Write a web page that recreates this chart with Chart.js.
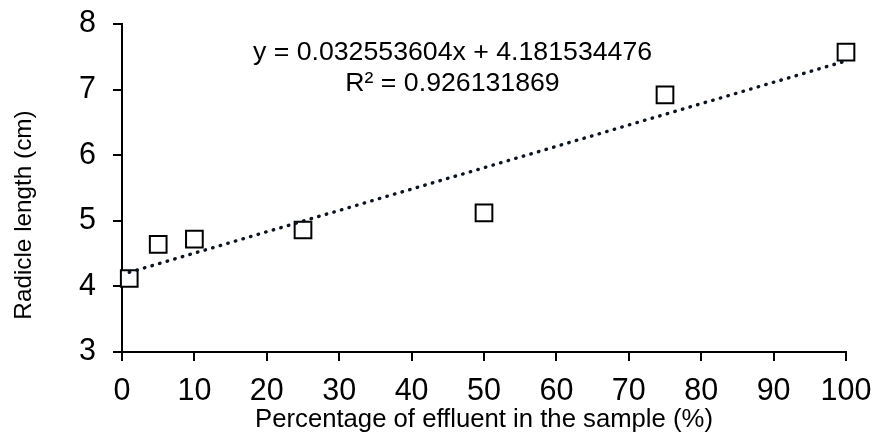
<!DOCTYPE html>
<html>
<head>
<meta charset="utf-8">
<script src="https://cdn.jsdelivr.net/npm/chart.js@4.4.1/dist/chart.umd.min.js"></script>
<style>
  html, body { margin: 0; padding: 0; background: #ffffff; }
  #wrap { width: 874px; height: 440px; }
</style>
</head>
<body>
<div id="wrap"><canvas id="c" width="874" height="440"></canvas></div>
<script>
// ---- data ----
const effluentPct = [1, 5, 10, 25, 50, 75, 100];
const radicleLen = [4.12, 4.64, 4.72, 4.86, 5.12, 6.92, 7.57];
const xTicks = [0, 10, 20, 30, 40, 50, 60, 70, 80, 90, 100];
const yTicks = [3, 4, 5, 6, 7, 8];
// linear trendline as printed on the chart
const trendSlope = 0.032553604;
const trendIntercept = 4.181534476;
const trendRange = [1, 100];
const equationLines = ['y = 0.032553604x + 4.181534476', 'R\u00B2 = 0.926131869'];
const xTitle = 'Percentage of effluent in the sample (%)';
const yTitle = 'Radicle length (cm)';

const FONT = '"Liberation Sans", Arial, Helvetica, sans-serif';

const trendPoints = trendRange.map(x => ({ x: x, y: trendSlope * x + trendIntercept }));
const scatterPoints = effluentPct.map((x, i) => ({ x: x, y: radicleLen[i] }));

const textPlugin = {
  id: 'textPlugin',
  afterDraw(chart) {
    const ctx = chart.ctx;
    const ca = chart.chartArea;
    ctx.save();
    ctx.fillStyle = '#000000';
    // equation
    ctx.font = '26.7px ' + FONT;
    ctx.textAlign = 'center';
    ctx.textBaseline = 'alphabetic';
    const ex = ca.left + (ca.right - ca.left) * 0.4565;
    ctx.fillText(equationLines[0], ex, ca.top + 36);
    ctx.fillText(equationLines[1], ex, ca.top + 67);
    // y axis title
    ctx.font = '24.3px ' + FONT;
    ctx.translate(24, (ca.top + ca.bottom) / 2 + 27);
    ctx.rotate(-Math.PI / 2);
    ctx.textBaseline = 'middle';
    ctx.fillText(yTitle, 0, 0);
    ctx.restore();
  }
};

new Chart(document.getElementById('c'), {
  type: 'scatter',
  data: {
    datasets: [
      {
        type: 'line',
        label: 'Trend',
        data: trendPoints,
        borderColor: '#0b1220',
        borderWidth: 3.4,
        borderDash: [0.5, 7.4],
        borderCapStyle: 'round',
        pointRadius: 0,
        fill: false,
        clip: false,
        order: 0
      },
      {
        label: 'Radicle length',
        data: scatterPoints,
        pointStyle: 'rect',
        pointRadius: 11.8,
        pointHoverRadius: 11.8,
        pointBorderWidth: 2,
        pointBorderColor: '#000000',
        pointBackgroundColor: '#ffffff',
        showLine: false,
        clip: false,
        order: 1
      }
    ]
  },
  options: {
    responsive: false,
    animation: false,
    devicePixelRatio: 1,
    layout: { autoPadding: false, padding: { left: 0, right: 28, top: 24, bottom: 0 } },
    plugins: { legend: { display: false }, tooltip: { enabled: false } },
    scales: {
      x: {
        type: 'linear',
        min: xTicks[0],
        max: xTicks[xTicks.length - 1],
        afterBuildTicks(scale) { scale.ticks = xTicks.map(v => ({ value: v })); },
        afterFit(scale) { scale.height = 88; scale.paddingLeft = 0; scale.paddingRight = 0; },
        grid: { display: true, drawOnChartArea: false, drawTicks: true, tickLength: 9, color: '#000000', lineWidth: 2 },
        border: { display: true, color: '#000000', width: 2 },
        ticks: { color: '#000000', font: { family: FONT, size: 30.5 }, padding: 12, maxRotation: 0 },
        title: { display: true, text: xTitle, color: '#000000', font: { family: FONT, size: 25.7 }, padding: { top: 0, bottom: 5 } }
      },
      y: {
        type: 'linear',
        min: yTicks[0],
        max: yTicks[yTicks.length - 1],
        afterBuildTicks(scale) { scale.ticks = yTicks.map(v => ({ value: v })); },
        afterFit(scale) { scale.width = 122; scale.paddingTop = 0; scale.paddingBottom = 0; },
        grid: { display: true, drawOnChartArea: false, drawTicks: true, tickLength: 9, color: '#000000', lineWidth: 2 },
        border: { display: true, color: '#000000', width: 2 },
        ticks: { color: '#000000', font: { family: FONT, size: 30.5 }, padding: 17 }
      }
    }
  },
  plugins: [textPlugin]
});
</script>
</body>
</html>
